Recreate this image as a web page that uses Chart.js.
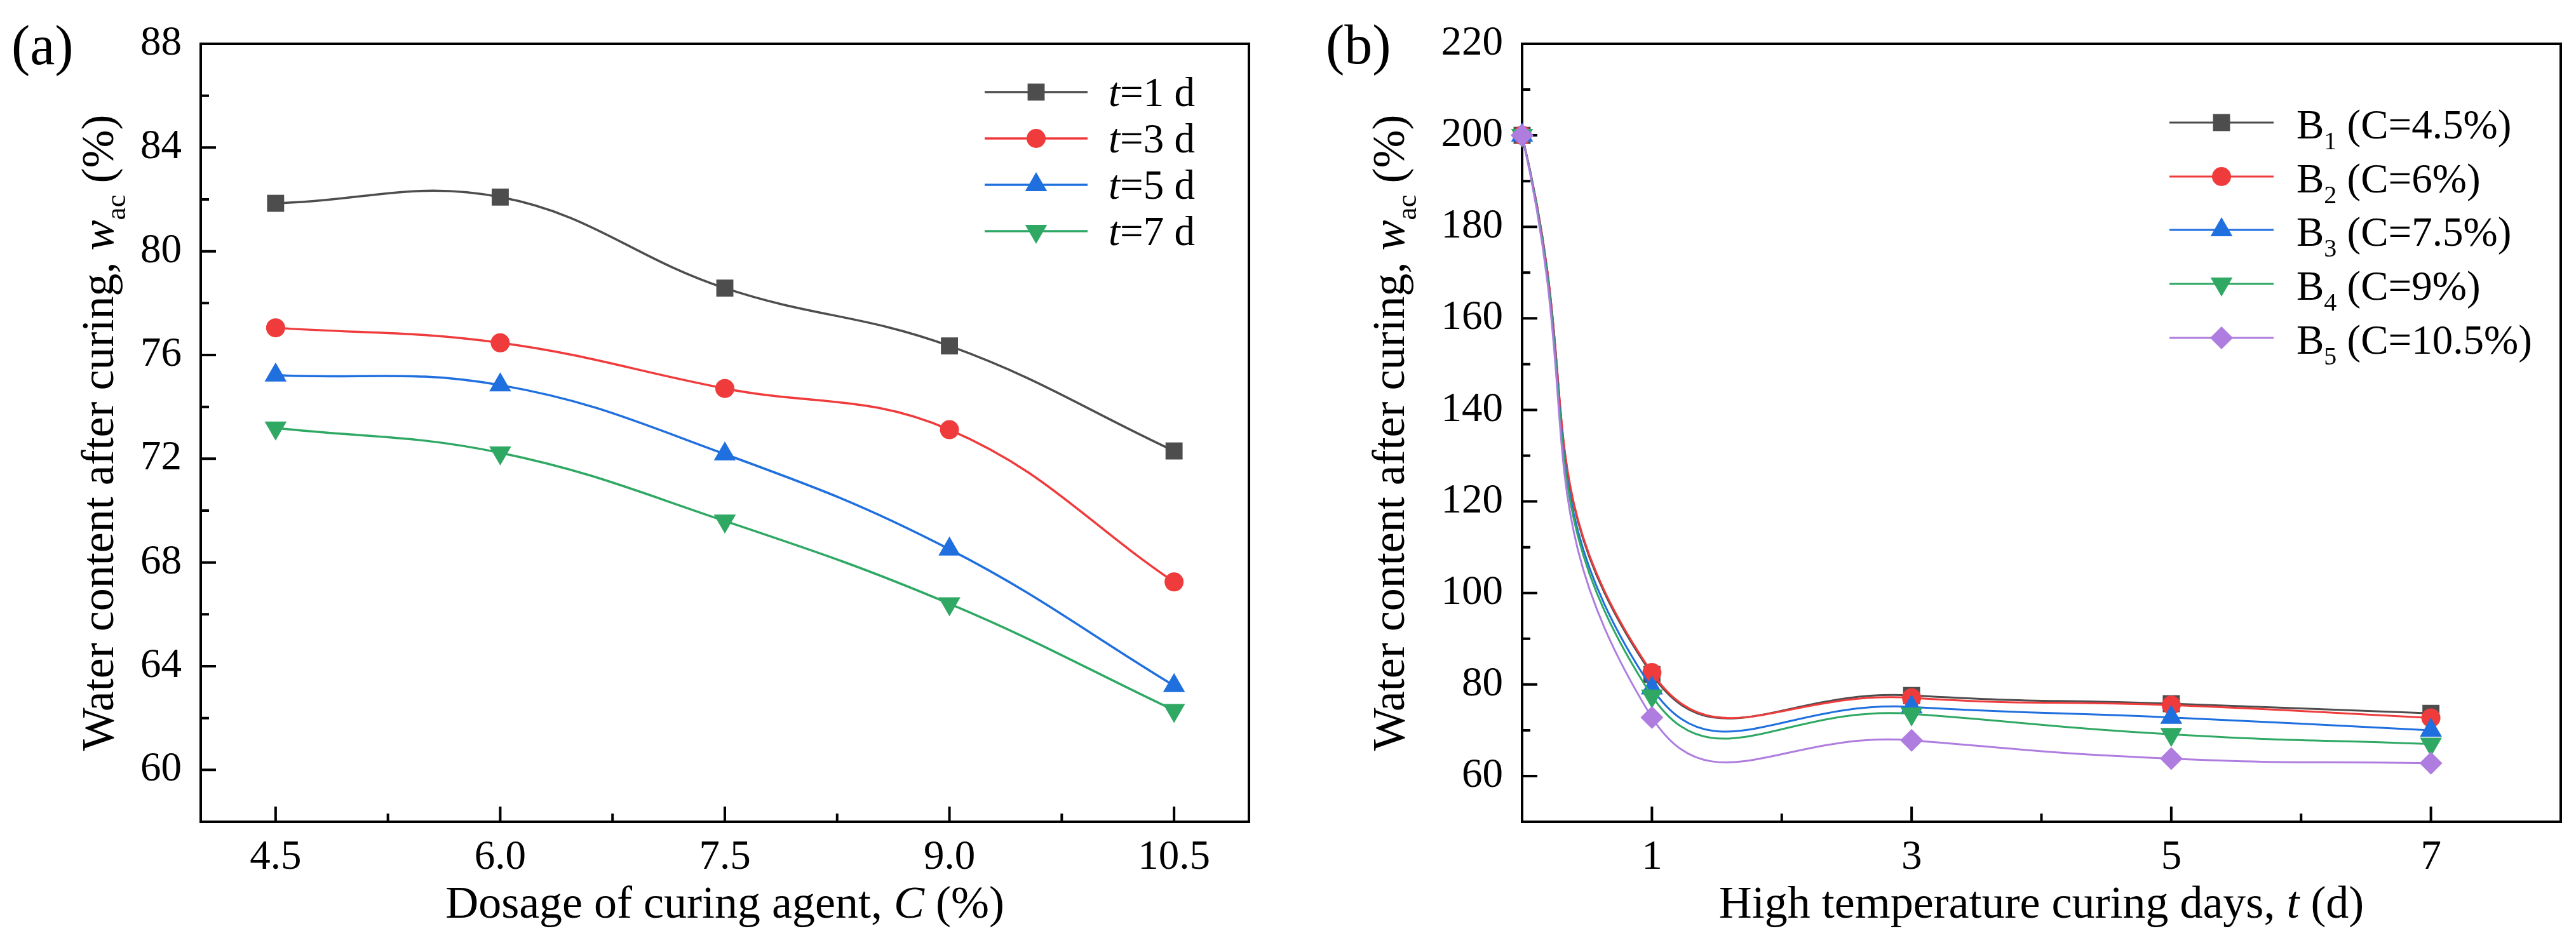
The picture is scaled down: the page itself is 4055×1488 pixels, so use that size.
<!DOCTYPE html>
<html>
<head>
<meta charset="utf-8">
<script src="https://cdn.jsdelivr.net/npm/chart.js@4.4.1/dist/chart.umd.min.js"></script>
<style>
  html, body { margin: 0; padding: 0; background: #fff; }
  body { width: 4055px; height: 1488px; position: relative; overflow: hidden; }
  canvas { position: absolute; top: 0; }
  #chartA { left: 0; }
  #chartB { left: 2000px; }
</style>
</head>
<body>
<canvas id="chartA" width="2000" height="1488"></canvas>
<canvas id="chartB" width="2055" height="1488"></canvas>
<script>
// (a) water content vs dosage of curing agent
const dosageX = [4.5, 6.0, 7.5, 9.0, 10.5];
const wacT1 = [81.85, 82.09, 78.58, 76.35, 72.30];
const wacT3 = [77.05, 76.47, 74.71, 73.12, 67.25];
const wacT5 = [75.22, 74.84, 72.18, 68.51, 63.25];
const wacT7 = [73.19, 72.23, 69.60, 66.41, 62.30];
const curingDays = ['1', '3', '5', '7'];

// (b) water content vs high temperature curing days
const daysX = [0, 1, 3, 5, 7];
const wacB1 = [200, 82.2, 77.6, 75.8, 73.7];
const wacB2 = [200, 82.6, 77.1, 75.5, 72.7];
const wacB3 = [200, 79.2, 75.1, 72.8, 70.0];
const wacB4 = [200, 77.5, 73.6, 69.1, 67.0];
const wacB5 = [200, 72.8, 67.8, 63.8, 62.8];
const groupNames = ['1', '2', '3', '4', '5'];
const groupDosage = ['4.5', '6', '7.5', '9', '10.5'];

// tick values
const aXMajor = [4.5, 6.0, 7.5, 9.0, 10.5];
const aXMinor = [5.25, 6.75, 8.25, 9.75];
const aYMajor = [60, 64, 68, 72, 76, 80, 84, 88];
const aYMinor = [62, 66, 70, 74, 78, 82, 86];
const bXMajor = [1, 3, 5, 7];
const bXMinor = [2, 4, 6];
const bYMajor = [60, 80, 100, 120, 140, 160, 180, 200, 220];
const bYMinor = [70, 90, 110, 130, 150, 170, 190, 210];

const SERIF = "'Liberation Serif', 'Times New Roman', serif";
const GRAY = '#4d4d4d', RED = '#ef3b3c', BLUE = '#1f6fdf', GREEN = '#2fa864', PURPLE = '#ae7ddf';
const markers = [
    { color: GRAY, style: 'rect', rotation: 0, radius: 19 },
    { color: RED, style: 'circle', rotation: 0, radius: 15 },
    { color: BLUE, style: 'triangle', rotation: 0, radius: 20 },
    { color: GREEN, style: 'triangle', rotation: 180, radius: 20 },
    { color: PURPLE, style: 'rectRot', rotation: 0, radius: 18 }
];

// TEXTO COM ITÁLICO / SUBSCRITO
function partFont(p, size) {
    const s = p.sub ? Math.round(size * 0.62) : size;
    return (p.i ? 'italic ' : '') + s + 'px ' + SERIF;
}
function drawRich(ctx, parts, x, y, size, align) {
    let w = 0;
    parts.forEach(p => { ctx.font = partFont(p, size); w += ctx.measureText(p.t).width; });
    let cx = align === 'center' ? x - w / 2 : x;
    ctx.textAlign = 'left';
    ctx.textBaseline = 'alphabetic';
    parts.forEach(p => {
        ctx.font = partFont(p, size);
        ctx.fillText(p.t, cx, y + (p.sub ? size * 0.26 : 0));
        cx += ctx.measureText(p.t).width;
    });
}

// MARCADORES (mesmas formas do Chart.js)
function drawMarker(ctx, m, x, y) {
    const r = m.radius;
    ctx.fillStyle = m.color;
    ctx.beginPath();
    if (m.style === 'circle') {
        ctx.arc(x, y, r, 0, Math.PI * 2);
    } else if (m.style === 'rect') {
        const s = Math.SQRT1_2 * r;
        ctx.rect(x - s, y - s, 2 * s, 2 * s);
    } else if (m.style === 'rectRot') {
        ctx.moveTo(x - r, y); ctx.lineTo(x, y - r); ctx.lineTo(x + r, y); ctx.lineTo(x, y + r);
    } else {
        let rad = m.rotation * Math.PI / 180;
        for (let k = 0; k < 3; k++) {
            const px = x + Math.sin(rad) * r, py = y - Math.cos(rad) * r;
            k ? ctx.lineTo(px, py) : ctx.moveTo(px, py);
            rad += 2 * Math.PI / 3;
        }
    }
    ctx.closePath();
    ctx.fill();
}

function series(xs, ys, i, n, lw, tension) {
    const m = markers[i];
    return {
        data: xs.map((x, k) => ({ x: x, y: ys[k] })),
        borderColor: m.color,
        backgroundColor: m.color,
        borderWidth: lw,
        tension: tension,
        clip: false,
        pointStyle: m.style,
        pointRotation: m.rotation,
        pointRadius: m.radius,
        pointHoverRadius: m.radius,
        pointBackgroundColor: m.color,
        pointBorderWidth: 0,
        order: n - i
    };
}

// MOLDURA, MARCAS DE ESCALA, TÍTULOS E LEGENDA
function decorations(d) {
    return {
        id: 'decorations',
        beforeDatasetsDraw(chart) {
            const { ctx, chartArea: a, scales: { x, y } } = chart;
            ctx.save();
            ctx.strokeStyle = '#000';
            ctx.lineWidth = 4;
            ctx.beginPath();
            d.xMajor.forEach(v => { const p = x.getPixelForValue(v); ctx.moveTo(p, a.bottom); ctx.lineTo(p, a.bottom - 24); });
            d.xMinor.forEach(v => { const p = x.getPixelForValue(v); ctx.moveTo(p, a.bottom); ctx.lineTo(p, a.bottom - 13); });
            d.yMajor.forEach(v => { const p = y.getPixelForValue(v); ctx.moveTo(a.left, p); ctx.lineTo(a.left + 24, p); });
            d.yMinor.forEach(v => { const p = y.getPixelForValue(v); ctx.moveTo(a.left, p); ctx.lineTo(a.left + 13, p); });
            ctx.stroke();
            ctx.strokeRect(a.left, a.top, a.right - a.left, a.bottom - a.top);
            ctx.restore();
        },
        afterDraw(chart) {
            const { ctx, chartArea: a } = chart;
            ctx.save();
            ctx.fillStyle = '#000';
            drawRich(ctx, [{ t: d.panel }], d.panelX, d.panelY, 88, 'left');
            drawRich(ctx, d.xTitle, (a.left + a.right) / 2, 1445, 72, 'center');
            ctx.save();
            ctx.translate(d.yTitleX, (a.top + a.bottom) / 2);
            ctx.rotate(-Math.PI / 2);
            drawRich(ctx, d.yTitle, 0, 0, 72, 'center');
            ctx.restore();

            const L = d.legend;
            L.labels.forEach((parts, i) => {
                const ry = L.rows[i];
                const m = markers[i];
                ctx.strokeStyle = m.color;
                ctx.lineWidth = L.lineWidth;
                ctx.beginPath();
                ctx.moveTo(L.x1, ry); ctx.lineTo(L.x2, ry);
                ctx.stroke();
                drawMarker(ctx, m, (L.x1 + L.x2) / 2, ry);
                ctx.fillStyle = '#000';
                drawRich(ctx, parts, L.textX, ry + L.baseline, L.size, 'left');
            });
            ctx.restore();
        }
    };
}

function makeChart(id, cfg) {
    const tickFont = { family: SERIF, size: 65 };
    return new Chart(document.getElementById(id), {
        type: 'line',
        data: { datasets: cfg.datasets },
        options: {
            responsive: false,
            devicePixelRatio: 1,
            animation: false,
            events: [],
            layout: { padding: { top: cfg.top, right: cfg.right, left: 0, bottom: 0 }, autoPadding: false },
            plugins: { legend: { display: false }, tooltip: { enabled: false } },
            scales: {
                x: {
                    type: 'linear', min: cfg.xMin, max: cfg.xMax,
                    afterBuildTicks: s => { s.ticks = cfg.deco.xMajor.map(v => ({ value: v })); },
                    afterFit: s => { s.height = 1488 - cfg.bottom; },
                    grid: { display: false, drawTicks: false },
                    border: { display: false },
                    ticks: { padding: 18, font: tickFont, color: '#000', maxRotation: 0, autoSkip: false, callback: cfg.xFormat }
                },
                y: {
                    type: 'linear', min: cfg.yMin, max: cfg.yMax,
                    afterBuildTicks: s => { s.ticks = cfg.deco.yMajor.map(v => ({ value: v })); },
                    afterFit: s => { s.width = cfg.left; },
                    grid: { display: false, drawTicks: false },
                    border: { display: false },
                    ticks: { padding: 30, font: tickFont, color: '#000', autoSkip: false, callback: v => String(v) }
                }
            }
        },
        plugins: [decorations(cfg.deco)]
    });
}

// GRÁFICO (a)
const seriesA = [wacT1, wacT3, wacT5, wacT7];
makeChart('chartA', {
    datasets: seriesA.map((ys, i) => series(dosageX, ys, i, seriesA.length, 3.5, 0.4)),
    xMin: 4, xMax: 11, yMin: 58, yMax: 88,
    left: 316, right: 34, top: 69, bottom: 1294,
    xFormat: v => v.toFixed(1),
    deco: {
        xMajor: aXMajor, xMinor: aXMinor, yMajor: aYMajor, yMinor: aYMinor,
        panel: '(a)', panelX: 18, panelY: 101,
        xTitle: [{ t: 'Dosage of curing agent, ' }, { t: 'C', i: true }, { t: ' (%)' }],
        yTitle: [{ t: 'Water content after curing, ' }, { t: 'w', i: true }, { t: 'ac', sub: true }, { t: ' (%)' }],
        yTitleX: 178,
        legend: {
            labels: curingDays.map(dd => [{ t: 't', i: true }, { t: '=' + dd + ' d' }]),
            rows: [145, 218, 291, 364], x1: 1550, x2: 1712, textX: 1745, baseline: 22, size: 65, lineWidth: 3.5
        }
    }
});

// GRÁFICO (b)
const seriesB = [wacB1, wacB2, wacB3, wacB4, wacB5];
makeChart('chartB', {
    datasets: seriesB.map((ys, i) => series(daysX, ys, i, seriesB.length, 3, 0.5)),
    xMin: 0, xMax: 8, yMin: 50, yMax: 220,
    left: 396, right: 24, top: 62, bottom: 1294,
    xFormat: v => String(v),
    deco: {
        xMajor: bXMajor, xMinor: bXMinor, yMajor: bYMajor, yMinor: bYMinor,
        panel: '(b)', panelX: 87, panelY: 100,
        xTitle: [{ t: 'High temperature curing days, ' }, { t: 't', i: true }, { t: ' (d)' }],
        yTitle: [{ t: 'Water content after curing, ' }, { t: 'w', i: true }, { t: 'ac', sub: true }, { t: ' (%)' }],
        yTitleX: 210,
        legend: {
            labels: groupNames.map((g, i) => [{ t: 'B' }, { t: g, sub: true }, { t: ' (C=' + groupDosage[i] + '%)' }]),
            rows: [193, 278, 362, 447, 532], x1: 1415, x2: 1579, textX: 1615, baseline: 25, size: 65, lineWidth: 3
        }
    }
});
</script>
</body>
</html>
